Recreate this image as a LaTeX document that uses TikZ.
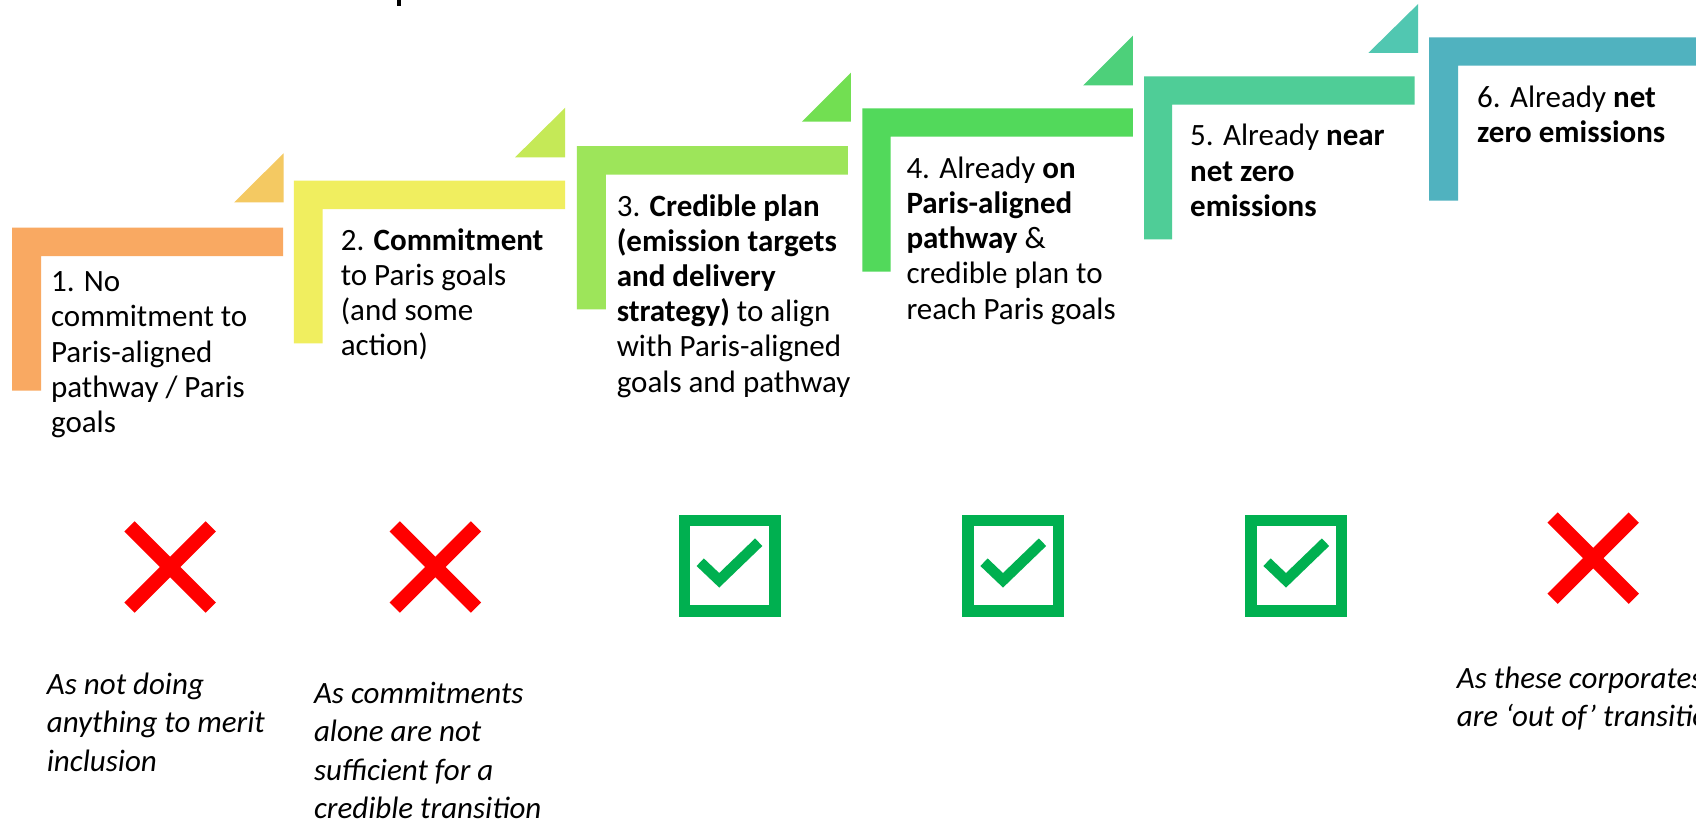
\documentclass[tikz,border=0pt]{standalone}
\usepackage{fontspec}
\setmainfont{Carlito}
\definecolor{cA}{HTML}{F9A962}
\definecolor{tA}{HTML}{F4C962}
\definecolor{cB}{HTML}{F0EE5F}
\definecolor{tB}{HTML}{C5E957}
\definecolor{cC}{HTML}{9DE55A}
\definecolor{tC}{HTML}{72DF52}
\definecolor{cD}{HTML}{52D95B}
\definecolor{tD}{HTML}{4DD07A}
\definecolor{cE}{HTML}{4FCD97}
\definecolor{tE}{HTML}{51C7B1}
\definecolor{cF}{HTML}{50B2BF}
\definecolor{chk}{HTML}{00B050}
\definecolor{xred}{HTML}{FF0000}
\tikzset{
  stxt/.style={anchor=base west, inner sep=0pt, font=\fontsize{31}{35.2}\selectfont},
  itxt/.style={anchor=base west, inner sep=0pt, font=\fontsize{31}{38.5}\selectfont\itshape},
  checkbox/.pic={
    \draw[chk, line width=11.3pt] (-45.35,-45.35) rectangle (45.35,45.35);
    \draw[chk, line width=10.5pt, miter limit=10] (-29.3,-3.5) -- (-10.3,14.6) -- (29.2,-23.5);
  },
  crossmark/.pic={
    \draw[xred, line width=14.5pt] (-40.6,-40.6) -- (40.6,40.6);
    \draw[xred, line width=14.5pt] (-40.6,40.6) -- (40.6,-40.6);
  }
}
\newcommand{\ptxt}[1]{\parbox[t]{420pt}{\raggedright #1}}
\begin{document}
\begin{tikzpicture}[x=1pt,y=-1pt]
\useasboundingbox (0,0) rectangle (1696,824);
\fill[white] (0,0) rectangle (1696,824);
\begin{scope}
\clip (0,0) rectangle (1696,824);
% title fragment
\fill[black] (396.7,0) rectangle (400.7,5.7);
% L shapes
\fill[cA] (12.2,227.7) -- (283.2,227.7) -- (283.2,256) -- (41,256) -- (41,390.7) -- (12.2,390.7) -- cycle;
\fill[cB] (293.9,180.7) -- (565.2,180.7) -- (565.2,209) -- (322.6,209) -- (322.6,343.3) -- (293.9,343.3) -- cycle;
\fill[cC] (576.8,146) -- (847.8,146) -- (847.8,174.7) -- (605.9,174.7) -- (605.9,309.3) -- (576.8,309.3) -- cycle;
\fill[cD] (862.3,108.3) -- (1132.9,108.3) -- (1132.9,136.7) -- (890.7,136.7) -- (890.7,271.7) -- (862.3,271.7) -- cycle;
\fill[cE] (1144.1,76.3) -- (1414.7,76.3) -- (1414.7,104.7) -- (1172.2,104.7) -- (1172.2,239.3) -- (1144.1,239.3) -- cycle;
\fill[cF] (1429.2,37.3) -- (1710,37.3) -- (1710,65.7) -- (1458,65.7) -- (1458,200.7) -- (1429.2,200.7) -- cycle;
% triangles
\fill[tA] (283.6,153.3) -- (283.6,202.3) -- (234.2,202.3) -- cycle;
\fill[tB] (565.2,107.7) -- (565.2,157.3) -- (515.1,157.3) -- cycle;
\fill[tC] (850.9,72.7) -- (850.9,121.7) -- (801.9,121.7) -- cycle;
\fill[tD] (1132.9,35.7) -- (1132.9,85.3) -- (1083.2,85.3) -- cycle;
\fill[tE] (1418.1,4) -- (1418.1,53) -- (1368.3,53) -- cycle;
% step texts
\node[stxt] (s1) at (50.9,291.7) {\ptxt{1. No\\commitment to\\Paris-aligned\\pathway / Paris\\goals}};
\node[stxt] (s2) at (340.6,250) {\ptxt{2. \textbf{Commitment}\\to Paris goals\\(and some\\action)}};
\node[stxt] (s3) at (616.6,216) {\ptxt{3. \textbf{Credible plan}\\\textbf{(emission targets}\\\textbf{and delivery}\\\textbf{strategy)} to align\\with Paris-aligned\\goals and pathway}};
\node[stxt] (s4) at (906.3,178.3) {\ptxt{4. Already \textbf{on}\\\textbf{Paris-aligned}\\\textbf{pathway} \&\\credible plan to\\reach Paris goals}};
\node[stxt] (s5) at (1190,146) {\ptxt{5. Already \textbf{near}\\\textbf{net zero}\\\textbf{emissions}}};
\node[stxt] (s6) at (1477,107.3) {\ptxt{6. Already \textbf{net}\\\textbf{zero emissions}}};
% icons
\pic (x1) at (170.1,567) {crossmark};
\pic (x2) at (435.3,567) {crossmark};
\pic (k3) at (729.5,565.7) {checkbox};
\pic (k4) at (1013.3,565.7) {checkbox};
\pic (k5) at (1296.3,565.7) {checkbox};
\pic (x6) at (1593.2,558.2) {crossmark};
% italic notes
\node[itxt] (n1) at (46.7,694) {\ptxt{As not doing\\anything to merit\\inclusion}};
\node[itxt] (n2) at (313.8,703.3) {\ptxt{As commitments\\alone are not\\sufficient for a\\credible transition}};
\node[itxt] (n6) at (1456.7,688.3) {\ptxt{As these corporates\\are ‘out of’ transition}};
\end{scope}
\end{tikzpicture}
\end{document}
